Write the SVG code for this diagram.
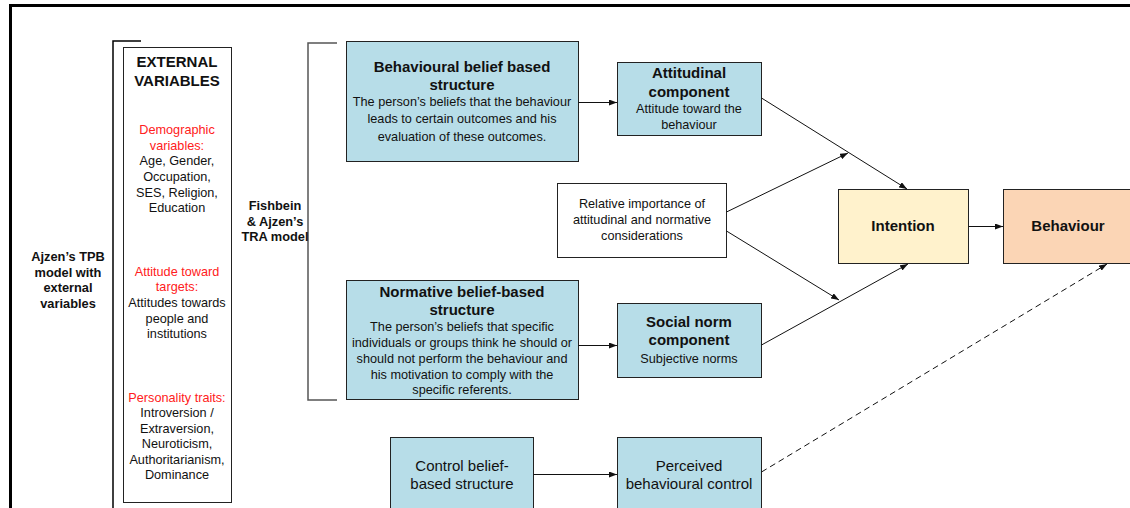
<svg xmlns="http://www.w3.org/2000/svg" width="1130" height="508" viewBox="0 0 1130 508">
  <style>
    text { font-family: "Liberation Sans", Arial, sans-serif; fill: #111; text-anchor: middle; }
    .b14 { font-size: 15px; font-weight: bold; }
    .b12 { font-size: 12.8px; font-weight: bold; }
    .t12 { font-size: 12.7px; }
    .t14 { font-size: 15px; }
    .red { fill: #ff2020; }
    .box { stroke: #222; stroke-width: 1; }
    .blue { fill: #b7dde8; }
    .white { fill: #ffffff; }
    .yellow { fill: #fff2cc; }
    .peach { fill: #fbd5b5; }
    .edge { fill: none; stroke: #111; stroke-width: 1; }
    .dash { stroke-dasharray: 6 4; }
  </style>
  <defs>
    <marker id="arrow" viewBox="0 0 8 6" refX="8" refY="3" markerWidth="8" markerHeight="6" markerUnits="userSpaceOnUse" orient="auto">
      <path d="M0,0 L8,3 L0,6 Z" fill="#111"/>
    </marker>
  </defs>

  <rect width="1130" height="508" fill="#ffffff"/>

  <!-- outer frame -->
  <g id="frame" fill="none" stroke="#000" stroke-width="3">
    <path d="M10.5,508 L10.5,5.5 L1130,5.5"/>
  </g>

  <!-- brackets grouping the two models -->
  <g id="tpb-bracket" fill="none" stroke="#000" stroke-width="1.5">
    <path d="M141,41 L113,41 L113,508"/>
  </g>
  <g id="tra-bracket" fill="none" stroke="#555" stroke-width="1.5">
    <path d="M337,43 L308,43 L308,400 L337,400"/>
  </g>

  <g id="tpb-label">
    <text class="b12" x="68" y="261">Ajzen’s TPB</text>
    <text class="b12" x="68" y="277">model with</text>
    <text class="b12" x="68" y="292">external</text>
    <text class="b12" x="68" y="308">variables</text>
  </g>

  <g id="tra-label">
    <text class="b12" x="275" y="210">Fishbein</text>
    <text class="b12" x="275" y="226">&amp; Ajzen’s</text>
    <text class="b12" x="275" y="241">TRA model</text>
  </g>

  <g id="external-variables">
    <rect class="box white" x="123.5" y="47.5" width="108" height="455"/>
    <text class="b14" x="177" y="67">EXTERNAL</text>
    <text class="b14" x="177" y="86">VARIABLES</text>
    <text class="t12 red" x="177" y="134">Demographic</text>
    <text class="t12 red" x="177" y="150">variables:</text>
    <text class="t12" x="177" y="165">Age, Gender,</text>
    <text class="t12" x="177" y="181">Occupation,</text>
    <text class="t12" x="177" y="197">SES, Religion,</text>
    <text class="t12" x="177" y="212">Education</text>
    <text class="t12 red" x="177" y="276">Attitude toward</text>
    <text class="t12 red" x="177" y="291">targets:</text>
    <text class="t12" x="177" y="307">Attitudes towards</text>
    <text class="t12" x="177" y="323">people and</text>
    <text class="t12" x="177" y="338">institutions</text>
    <text class="t12 red" x="177" y="402">Personality traits:</text>
    <text class="t12" x="177" y="417">Introversion /</text>
    <text class="t12" x="177" y="433">Extraversion,</text>
    <text class="t12" x="177" y="448">Neuroticism,</text>
    <text class="t12" x="177" y="464">Authoritarianism,</text>
    <text class="t12" x="177" y="479">Dominance</text>
  </g>

  <g id="behavioural-belief">
    <rect class="box blue" x="346.5" y="41.5" width="232" height="120"/>
    <text class="b14" x="462" y="72">Behavioural belief based</text>
    <text class="b14" x="462" y="90">structure</text>
    <text class="t12" x="462" y="106">The person’s beliefs that the behaviour</text>
    <text class="t12" x="462" y="123">leads to certain outcomes and his</text>
    <text class="t12" x="462" y="141">evaluation of these outcomes.</text>
  </g>

  <g id="attitudinal-component">
    <rect class="box blue" x="617.5" y="62.5" width="144" height="73"/>
    <text class="b14" x="689" y="78">Attitudinal</text>
    <text class="b14" x="689" y="97">component</text>
    <text class="t12" x="689" y="113">Attitude toward the</text>
    <text class="t12" x="689" y="129">behaviour</text>
  </g>

  <g id="relative-importance">
    <rect class="box white" x="557.5" y="183.5" width="169" height="74"/>
    <text class="t12" x="642" y="208">Relative importance of</text>
    <text class="t12" x="642" y="224">attitudinal and normative</text>
    <text class="t12" x="642" y="240">considerations</text>
  </g>

  <g id="intention">
    <rect class="box yellow" x="838.5" y="189.5" width="130" height="74"/>
    <text class="b14" x="903" y="231">Intention</text>
  </g>

  <g id="behaviour">
    <rect class="box peach" x="1003.5" y="189.5" width="130" height="74"/>
    <text class="b14" x="1068" y="231">Behaviour</text>
  </g>

  <g id="normative-belief">
    <rect class="box blue" x="346.5" y="280.5" width="232" height="119"/>
    <text class="b14" x="462" y="297">Normative belief-based</text>
    <text class="b14" x="462" y="315">structure</text>
    <text class="t12" x="462" y="331">The person’s beliefs that specific</text>
    <text class="t12" x="462" y="347">individuals or groups think he should or</text>
    <text class="t12" x="462" y="363">should not perform the behaviour and</text>
    <text class="t12" x="462" y="379">his motivation to comply with the</text>
    <text class="t12" x="462" y="394">specific referents.</text>
  </g>

  <g id="social-norm-component">
    <rect class="box blue" x="617.5" y="303.5" width="144" height="74"/>
    <text class="b14" x="689" y="327">Social norm</text>
    <text class="b14" x="689" y="345">component</text>
    <text class="t12" x="689" y="363">Subjective norms</text>
  </g>

  <g id="control-belief">
    <rect class="box blue" x="390.5" y="437.5" width="143" height="80"/>
    <text class="t14" x="462" y="471">Control belief-</text>
    <text class="t14" x="462" y="489">based structure</text>
  </g>

  <g id="perceived-control">
    <rect class="box blue" x="617.5" y="437.5" width="144" height="80"/>
    <text class="t14" x="689" y="471">Perceived</text>
    <text class="t14" x="689" y="489">behavioural control</text>
  </g>

  <!-- connectors -->
  <g id="connectors">
    <line class="edge" x1="578.5" y1="102.5" x2="617" y2="102.5" marker-end="url(#arrow)"/>
    <line class="edge" x1="578.5" y1="345.5" x2="617" y2="345.5" marker-end="url(#arrow)"/>
    <line class="edge" x1="533.5" y1="474.5" x2="617" y2="474.5" marker-end="url(#arrow)"/>
    <line class="edge" x1="968.5" y1="226.5" x2="1003" y2="226.5" marker-end="url(#arrow)"/>
    <line class="edge" x1="761.5" y1="98" x2="907" y2="189" marker-end="url(#arrow)"/>
    <line class="edge" x1="726.5" y1="212" x2="848" y2="153" marker-end="url(#arrow)"/>
    <line class="edge" x1="726.5" y1="231" x2="839" y2="300" marker-end="url(#arrow)"/>
    <line class="edge" x1="761.5" y1="345" x2="908" y2="264" marker-end="url(#arrow)"/>
    <line class="edge dash" x1="761.5" y1="472" x2="1107" y2="264" marker-end="url(#arrow)"/>
  </g>
</svg>
